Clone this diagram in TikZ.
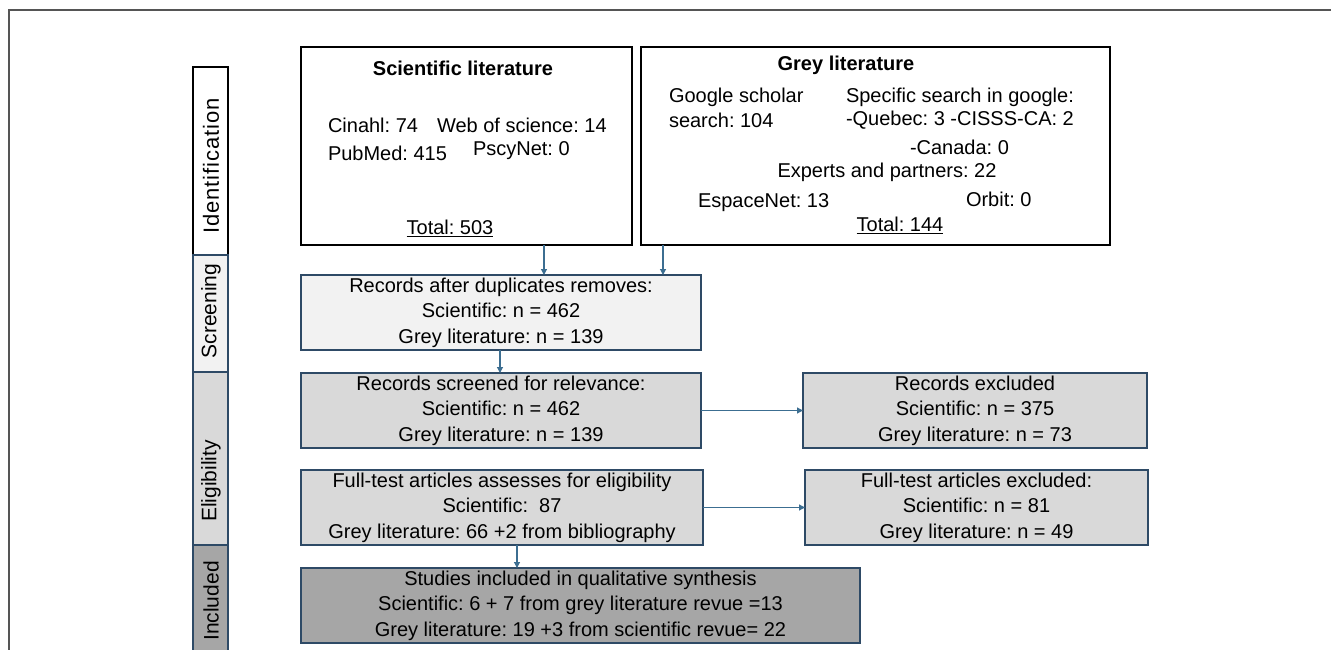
\documentclass[tikz,border=0pt]{standalone}
\usepackage{fontspec}
\setmainfont{Liberation Sans}
\usetikzlibrary{arrows.meta}
\definecolor{bord}{HTML}{2E4A66}
\definecolor{arr}{HTML}{3C6E91}
\definecolor{scrfill}{HTML}{F2F2F2}
\definecolor{elifill}{HTML}{D9D9D9}
\definecolor{incfill}{HTML}{A6A6A6}
\definecolor{framec}{HTML}{555555}
\frenchspacing
\begin{document}
\begin{tikzpicture}[x=1pt,y=-1pt,
  every node/.style={inner sep=0pt, outer sep=0pt, font=\fontsize{20}{25.5}\selectfont},
  srcbox/.style={draw=black, line width=1.8pt, fill=white},
  flowbox/.style={draw=bord, line width=1.6pt, align=center},
  sidebar/.style={draw=bord, line width=1.4pt},
  sidelabel/.style={rotate=90, font=\fontsize{21}{24}\selectfont},
  conn/.style={draw=arr, line width=1.2pt, -{Triangle[length=6pt,width=6pt]}},
  ttl/.style={font=\fontsize{20}{24}\selectfont\bfseries}
]
\useasboundingbox (0,0) rectangle (1331,650);
\draw[framec, line width=1.3pt] (9,670) -- (9,10) -- (1345,10);

% side bars
\node[sidebar, draw=black, fill=white, minimum width=35pt, minimum height=188pt] (idbar) at (210.5,161) {};
\node[sidebar, fill=scrfill, minimum width=35pt, minimum height=117pt] (scrbar) at (210.5,313.5) {};
\node[sidebar, fill=elifill, minimum width=35pt, minimum height=173pt] (elibar) at (210.5,458.5) {};
\node[sidebar, fill=incfill, minimum width=35pt, minimum height=125pt] (incbar) at (210.5,607.5) {};
\node[sidelabel, font=\fontsize{22}{24}\selectfont\addfontfeature{LetterSpace=4}] (idlab) at (211,166) {Identification};
\node[sidelabel] (scrlab) at (211,311) {Screening};
\node[sidelabel] (elilab) at (211,481) {Eligibility};
\node[sidelabel] (inclab) at (211,601) {Included};

% source boxes
\node[srcbox, minimum width=331pt, minimum height=198pt] (sci) at (466.5,146) {};
\node[srcbox, minimum width=469pt, minimum height=198pt] (grey) at (875.5,146) {};

\node[ttl] (sciT) at (463,68) {Scientific literature};
\node[anchor=west] (cin) at (328,125) {Cinahl: 74};
\node[anchor=west] (wos) at (437,125) {Web of science: 14};
\node[anchor=west] (pub) at (328,153) {PubMed: 415};
\node[anchor=west] (psy) at (473,151) {PscyNet: 0};
\node (sciTot) at (450,228) {\underline{Total: 503}};

\node[ttl] (greyT) at (846,65) {Grey literature};
\node[anchor=west] (gs1) at (669,97) {Google scholar};
\node[anchor=west] (gs2) at (669,120) {search: 104};
\node[anchor=west] (sp1) at (846,97) {Specific search in google:};
\node[anchor=west] (sp2) at (846,120) {-Quebec: 3 -CISSS-CA: 2};
\node[anchor=west] (sp3) at (910,147) {-Canada: 0};
\node (exp) at (887,172) {Experts and partners: 22};
\node[anchor=west] (esp) at (698,203) {EspaceNet: 13};
\node[anchor=west] (orb) at (966,199) {Orbit: 0};
\node (gTot) at (900,225) {\underline{Total: 144}};

% flow boxes
\node[flowbox, fill=scrfill, minimum width=400pt, minimum height=75pt] (dup) at (501,312.5)
  {Records after duplicates removes:\\ Scientific: n = 462\\ Grey literature: n = 139};
\node[flowbox, fill=elifill, minimum width=400pt, minimum height=75pt] (scr) at (501,410.5)
  {Records screened for relevance:\\ Scientific: n = 462\\ Grey literature: n = 139};
\node[flowbox, fill=elifill, minimum width=402pt, minimum height=75pt] (full) at (502,507.5)
  {Full-test articles assesses for eligibility\\ Scientific:\ \ 87\\ Grey literature: 66 +2 from bibliography};
\node[flowbox, fill=elifill, minimum width=344pt, minimum height=75pt] (exc1) at (975,410.5)
  {Records excluded\\ Scientific: n = 375\\ Grey literature: n = 73};
\node[flowbox, fill=elifill, minimum width=343pt, minimum height=75pt] (exc2) at (976.5,507.5)
  {Full-test articles excluded:\\ Scientific: n = 81\\ Grey literature: n = 49};
\node[flowbox, fill=incfill, minimum width=559pt, minimum height=75pt] (stud) at (580.5,605.5)
  {Studies included in qualitative synthesis\\ Scientific: 6 + 7 from grey literature revue =13\\ Grey literature: 19 +3 from scientific revue= 22};

% connectors
\coordinate (a1) at (544,0);
\coordinate (a2) at (663,0);
\coordinate (a3) at (500,0);
\coordinate (a4) at (517,0);
\draw[conn] (a1 |- sci.south) -- (a1 |- dup.north);
\draw[conn] (a2 |- grey.south) -- (a2 |- dup.north);
\draw[conn] (a3 |- dup.south) -- (a3 |- scr.north);
\draw[conn] (scr.east) -- (exc1.west);
\draw[conn] (full.east) -- (exc2.west);
\draw[conn] (a4 |- full.south) -- (a4 |- stud.north);
\end{tikzpicture}
\end{document}
